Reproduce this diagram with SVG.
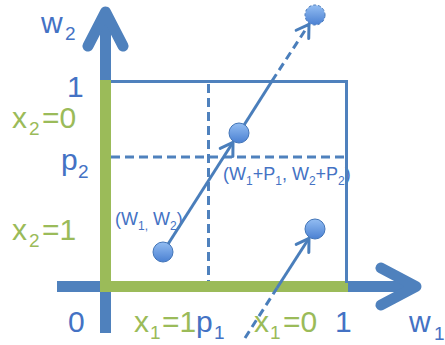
<svg xmlns="http://www.w3.org/2000/svg" width="445" height="345" viewBox="0 0 445 345">
<defs>
<linearGradient id="cg" x1="0" y1="0" x2="0" y2="1">
<stop offset="0" stop-color="#93bdf2"/>
<stop offset="1" stop-color="#4a80d2"/>
</linearGradient>
<marker id="ah" markerUnits="userSpaceOnUse" markerWidth="22" markerHeight="22" refX="0" refY="0" viewBox="-15 -11 19 22" orient="auto">
<path d="M-12,-7.5 L0,0 L-12,7.5" fill="none" stroke="#4a7ebb" stroke-width="3" stroke-linecap="round" stroke-linejoin="round"/>
</marker>
<style>
.t{font-family:"Liberation Sans",Arial,sans-serif;}
.b{fill:#4472c4;}
.g{fill:#9bbb59;}
.big{font-size:30px;}
.sub{font-size:19px;}
.sm{font-size:18px;}
.ssub{font-size:12px;}
.axis{stroke:#4f81bd;stroke-width:11;fill:none;}
.ah{stroke:#4f81bd;stroke-width:11;fill:none;stroke-linecap:round;stroke-linejoin:round;}
.sq{stroke:#4f81bd;stroke-width:3;fill:none;}
.dash{stroke:#4f81bd;stroke-width:3;fill:none;stroke-dasharray:9 5;}
.ln{stroke:#4a7ebb;stroke-width:3;fill:none;}
.lnd{stroke:#4a7ebb;stroke-width:3;fill:none;stroke-dasharray:8 5;}
.pt{fill:url(#cg);stroke:#4275b8;stroke-width:1;}
</style>
</defs>
<rect width="445" height="345" fill="#ffffff"/>

<g id="axes">
<line class="axis" x1="105.5" y1="333" x2="105.5" y2="14"/>
<polyline class="ah" points="88,46 105.5,12 123,46"/>
<line class="axis" x1="57" y1="286.5" x2="414" y2="286.5"/>
<polyline class="ah" points="381,268 416,286.5 381,305"/>
</g>

<g id="labels">
<text class="t b big" x="41" y="33">w</text>
<text class="t b sub" x="65" y="40">2</text>
<text class="t b big" x="67" y="97">1</text>
<text class="t g big" x="12" y="128">x</text>
<text class="t g sub" x="29" y="135">2</text>
<text class="t g big" x="42" y="128">=0</text>
<text class="t b big" x="61" y="170">p</text>
<text class="t b sub" x="78" y="178">2</text>
<text class="t g big" x="12" y="240">x</text>
<text class="t g sub" x="29" y="247">2</text>
<text class="t g big" x="42" y="240">=1</text>
<text class="t b big" x="68" y="332">0</text>
<text class="t g big" x="134" y="332">x</text>
<text class="t g sub" x="150" y="339">1</text>
<text class="t g big" x="162" y="332">=1</text>
<text class="t b big" x="196" y="332">p</text>
<text class="t b sub" x="214" y="339">1</text>
<text class="t g big" x="254" y="332">x</text>
<text class="t g sub" x="270" y="339">1</text>
<text class="t g big" x="283" y="332">=0</text>
<text class="t b big" x="335" y="332">1</text>
<text class="t b big" x="409" y="332">w</text>
<text class="t b sub" x="434" y="340">1</text>
<text class="t b sm" x="115" y="225">(W<tspan class="ssub" dy="5">1,</tspan><tspan dy="-5"> W</tspan><tspan class="ssub" dy="5">2</tspan><tspan dy="-5">)</tspan></text>
<text class="t b sm" x="223" y="180">(W<tspan class="ssub" dy="5">1</tspan><tspan dy="-5">+P</tspan><tspan class="ssub" dy="5">1</tspan><tspan dy="-5">, W</tspan><tspan class="ssub" dy="5">2</tspan><tspan dy="-5">+P</tspan><tspan class="ssub" dy="5">2</tspan><tspan dy="-5">)</tspan></text>
</g>

<g id="square">
<rect x="100" y="80" width="11" height="212" fill="#9bbb59"/>
<rect x="100" y="281" width="248" height="11" fill="#9bbb59"/>
<polyline class="sq" points="111,81.5 346.5,81.5 346.5,283"/>
<line class="dash" x1="208.5" y1="84" x2="208.5" y2="281"/>
<line class="dash" x1="111" y1="157" x2="345" y2="157"/>
</g>

<g id="connectors">
<line class="ln" x1="163" y1="252" x2="233" y2="142.3" marker-end="url(#ah)"/>
<line class="ln" x1="239" y1="133" x2="272" y2="81"/>
<line class="lnd" x1="272" y1="81" x2="309" y2="24.3" marker-end="url(#ah)"/>
<line class="lnd" x1="245" y1="338" x2="277" y2="288"/>
<line class="ln" x1="277" y1="288" x2="309" y2="238.3" marker-end="url(#ah)"/>
</g>

<g id="p-w">
<circle class="pt" cx="163" cy="252" r="10"/>
</g>
<g id="p-wp">
<circle class="pt" cx="239" cy="133" r="10"/>
</g>
<g id="p-top">
<circle class="pt" cx="315" cy="15" r="10" stroke-dasharray="3 2"/>
</g>
<g id="p-right">
<circle class="pt" cx="315" cy="229" r="10"/>
</g>
</svg>
